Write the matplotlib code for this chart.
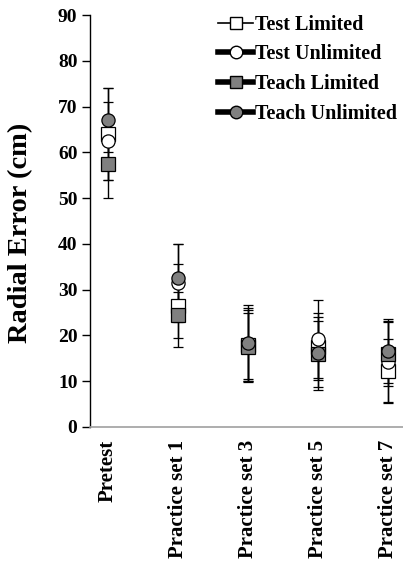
import matplotlib
matplotlib.use("Agg")
import matplotlib.pyplot as plt
from matplotlib.lines import Line2D
import numpy as np

categories = ["Pretest", "Practice set 1", "Practice set 3", "Practice set 5", "Practice set 7"]
series_names = ["Test Limited", "Test Unlimited", "Teach Limited", "Teach Unlimited"]

test_limited = [64.0, 26.5, 18.0, 17.5, 12.2]
test_limited_err = [10.0, 9.0, 7.5, 7.3, 7.0]
test_unlimited = [62.5, 31.5, 18.0, 19.2, 14.3]
test_unlimited_err = [8.5, 8.5, 8.0, 8.5, 8.8]
teach_limited = [57.5, 24.5, 17.5, 16.0, 16.0]
teach_limited_err = [7.5, 5.0, 7.5, 7.2, 7.0]
teach_unlimited = [67.0, 32.5, 18.3, 16.1, 16.5]
teach_unlimited_err = [7.0, 7.5, 8.4, 8.0, 7.0]

plt.rcParams['font.family'] = ['Liberation Serif', 'DejaVu Serif']
plt.rcParams['font.weight'] = 'bold'

fig = plt.figure(figsize=(4.03, 5.63), dpi=100)
ax = fig.add_axes([0.2233, 0.2416, 0.7767, 0.7317])

x = np.arange(len(categories))
styles = [
    (test_limited, test_limited_err, 's', 'white', 1.0, 10),
    (test_unlimited, test_unlimited_err, 'o', 'white', 2.5, 9.5),
    (teach_limited, teach_limited_err, 's', '#808080', 2.5, 10),
    (teach_unlimited, teach_unlimited_err, 'o', '#808080', 1.0, 9.5),
]
for vals, errs, mk, fc, ct, ms in styles:
    ax.errorbar(x, vals, yerr=errs, fmt=mk, mfc=fc, mec='black', mew=0.9, ms=ms,
                ecolor='black', elinewidth=1.0, capsize=3.5, capthick=ct, linestyle='none')

ax.set_xlim(-0.257, 4.21)
ax.set_ylim(0, 90)
ax.set_yticks(np.arange(0, 91, 10))
ax.set_xticks(x)
ax.set_xticklabels(categories, rotation=90, fontsize=15, fontweight='bold', va='top')
ax.tick_params(axis='x', length=0, pad=9)
ax.tick_params(axis='y', direction='out', length=6, width=1, labelsize=14, pad=3)
for lab in ax.get_yticklabels():
    lab.set_fontweight('bold')
ax.spines['top'].set_visible(False)
ax.spines['right'].set_visible(False)
ax.spines['bottom'].set_color('#a0a0a0')
ax.spines['bottom'].set_linewidth(1.2)
ax.spines['left'].set_linewidth(1.0)
ax.set_ylabel("Radial Error (cm)", fontsize=20.5, fontweight='bold')
ax.yaxis.set_label_coords(-0.182, 0.47)

handles = [
    Line2D([], [], color='black', lw=1.2, marker='s', mfc='white', mec='black', ms=9),
    Line2D([], [], color='black', lw=4, marker='o', mfc='white', mec='black', ms=9),
    Line2D([], [], color='black', lw=4, marker='s', mfc='#808080', mec='black', ms=9),
    Line2D([], [], color='black', lw=4, marker='o', mfc='#808080', mec='black', ms=9),
]
ax.legend(handles, series_names, loc='upper right', bbox_to_anchor=(1.02, 1.03), frameon=False,
          prop={'family': 'Liberation Serif', 'weight': 'bold', 'size': 14.5},
          handlelength=1.75, handletextpad=0.1, labelspacing=0.48, borderaxespad=0.2)

fig.savefig("out.png", dpi=100)
